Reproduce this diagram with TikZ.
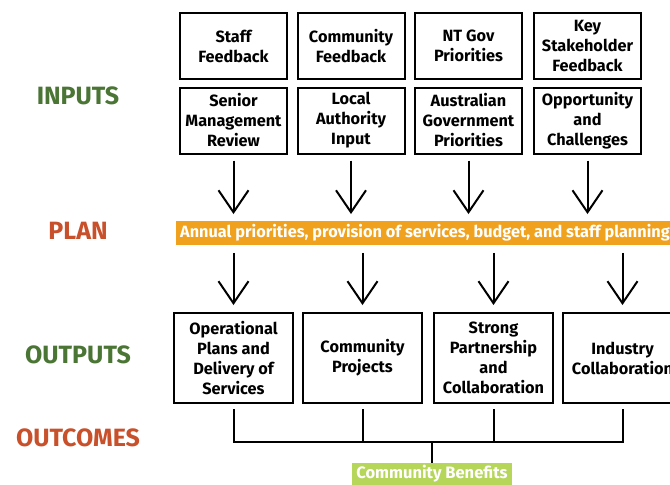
\documentclass[tikz,border=0pt]{standalone}
\usepackage{fontspec}
\setmainfont{Fira Sans}
\usetikzlibrary{arrows.meta}

\definecolor{stagegreen}{HTML}{4A7534}
\definecolor{stagered}{HTML}{C8502A}
\definecolor{planorange}{HTML}{F0A11E}
\definecolor{benefitgreen}{HTML}{B6D65A}

\begin{document}
\begin{tikzpicture}[x=1pt, y=-1pt, >={Straight Barb[length=22pt, width=30pt]},
    stage/.style={font=\fontsize{25}{28}\selectfont\bfseries},
    inbox/.style={draw, line width=2pt, minimum width=107pt, minimum height=66pt,
        align=center, inner sep=1pt, font=\fontsize{16.3}{20}\selectfont\bfseries},
    outbox/.style={inbox, minimum width=119pt, minimum height=90pt},
    flow/.style={->, line width=2pt, shorten <=6pt, shorten >=7pt},
    link/.style={line width=2pt}]

\useasboundingbox (0,0) rectangle (670,485);

% Stage labels
\node[stage, text=stagegreen] (inputs) at (78,96) {INPUTS};
\node[stage, text=stagered] (planlabel) at (78,231) {PLAN};
\node[stage, text=stagegreen] (outputs) at (78,355) {OUTPUTS};
\node[stage, text=stagered] (outcomes) at (78,438) {OUTCOMES};

% Inputs, top row
\node[inbox] (in1) at (233.5,46) {Staff\\Feedback};
\node[inbox] (in2) at (351,46) {Community\\Feedback};
\node[inbox] (in3) at (468.5,46) {NT Gov\\Priorities};
\node[inbox] (in4) at (587.5,46) {Key\\Stakeholder\\Feedback};

% Inputs, second row
\node[inbox] (in5) at (233.5,120.5) {Senior\\Management\\Review};
\node[inbox] (in6) at (351,120.5) {Local\\Authority\\Input};
\node[inbox] (in7) at (468.5,120.5) {Australian\\Government\\Priorities};
\node[inbox] (in8) at (587.5,120.5) {Opportunity\\and\\Challenges};

% Plan bar
\node[fill=planorange, text=white, anchor=west, inner xsep=4pt, minimum height=22pt,
    font=\fontsize{16.3}{18}\selectfont\bfseries] (plan) at (176,233)
    {Annual priorities, provision of services, budget, and staff planning};

% Arrows into the plan
\foreach \i in {5,...,8} {
    \draw[flow] (in\i.south) -- (in\i.south |- plan.north);
}

% Outputs
\node[outbox] (out1) at (233.5,358) {Operational\\Plans and\\Delivery of\\Services};
\node[outbox] (out2) at (362.5,358) {Community\\Projects};
\node[outbox] (out3) at (493.5,358) {Strong\\Partnership\\and\\Collaboration};
\node[outbox] (out4) at (622.5,358) {Industry\\Collaboration};

% Arrows from the plan
\foreach \i in {1,...,4} {
    \draw[flow, shorten <=8pt] (plan.south -| out\i.north) -- (out\i.north);
}

% Outcomes
\coordinate (bus) at (432,442);
\node[fill=benefitgreen, text=white, minimum width=160pt, minimum height=22pt, inner sep=2pt,
    font=\fontsize{16.5}{18}\selectfont\bfseries] (benefits) at (432,474) {Community Benefits};
\draw[link] ([yshift=-5pt]out1.south) -- (out1.south |- bus) -- (out4.south |- bus) -- ([yshift=-5pt]out4.south);
\draw[link] ([yshift=-5pt]out2.south) -- (out2.south |- bus);
\draw[link] ([yshift=-5pt]out3.south) -- (out3.south |- bus);
\draw[link] (bus) -- (benefits.north);

\end{tikzpicture}
\end{document}
